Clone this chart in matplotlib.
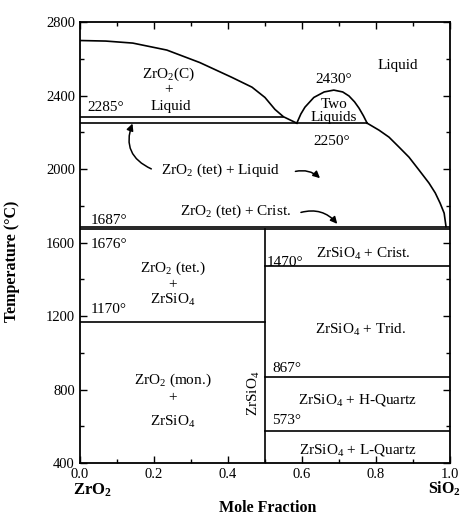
import matplotlib
matplotlib.use("Agg")
from matplotlib import pyplot as plt
from matplotlib.ticker import MultipleLocator, FormatStrFormatter

plt.rcParams['font.family'] = ['Liberation Serif', 'DejaVu Serif']
plt.rcParams['mathtext.fontset'] = 'custom'
plt.rcParams['mathtext.rm'] = 'Liberation Serif'
plt.rcParams['mathtext.it'] = 'Liberation Serif:italic'
plt.rcParams['mathtext.bf'] = 'Liberation Serif:bold'

# liquidus on the ZrO2 side, down to the eutectic
liq_left_x = [0.0, 0.07, 0.143, 0.235, 0.324, 0.41, 0.465, 0.5, 0.527, 0.55, 0.586]
liq_left_t = [2700, 2697, 2686, 2648, 2580, 2500, 2446, 2390, 2325, 2285, 2250]

# miscibility gap (two liquids)
dome_x = [0.586, 0.597, 0.608, 0.632, 0.66, 0.686, 0.71, 0.727, 0.742, 0.754, 0.766, 0.776]
dome_t = [2250, 2300, 2337, 2390, 2420, 2430, 2420, 2398, 2366, 2332, 2290, 2250]

# liquidus on the SiO2 side
liq_right_x = [0.776, 0.808, 0.835, 0.862, 0.889, 0.916, 0.943, 0.96, 0.973, 0.984, 0.989]
liq_right_t = [2250, 2212, 2174, 2120, 2065, 1995, 1924, 1870, 1815, 1760, 1687]

# invariant lines: (temperature, x start, x end)
isotherms = [
    (2285, 0.0, 0.55),
    (2250, 0.0, 0.776),
    (1687, 0.0, 1.0),
    (1676, 0.0, 1.0),
    (1470, 0.5, 1.0),
    (1170, 0.0, 0.5),
    (867, 0.5, 1.0),
    (573, 0.5, 1.0),
]
zrsio4_x = 0.5

# (text, x, T, ha)
labels = [
    (r'ZrO$_2$(C)', 0.24, 2515, 'center'),
    ('+', 0.24, 2432, 'center'),
    ('Liquid', 0.245, 2340, 'center'),
    ('2285°', 0.02, 2335, 'left'),
    ('Liquid', 0.86, 2566, 'center'),
    ('2430°', 0.686, 2486, 'center'),
    ('Two', 0.686, 2350, 'center'),
    ('Liquids', 0.686, 2283, 'center'),
    ('2250°', 0.68, 2152, 'center'),
    (r'ZrO$_2$ (tet) + Liquid', 0.38, 1995, 'center'),
    (r'ZrO$_2$ (tet) + Crist.', 0.42, 1770, 'center'),
    ('1687°', 0.03, 1718, 'left'),
    ('1676°', 0.03, 1588, 'left'),
    (r'ZrO$_2$ (tet.)', 0.25, 1461, 'center'),
    ('+', 0.25, 1372, 'center'),
    (r'ZrSiO$_4$', 0.25, 1287, 'center'),
    ('1170°', 0.03, 1236, 'left'),
    (r'ZrO$_2$ (mon.)', 0.25, 852, 'center'),
    ('+', 0.25, 756, 'center'),
    (r'ZrSiO$_4$', 0.25, 623, 'center'),
    ('1470°', 0.505, 1492, 'left'),
    (r'ZrSiO$_4$ + Crist.', 0.765, 1540, 'center'),
    (r'ZrSiO$_4$ + Trid.', 0.757, 1124, 'center'),
    ('867°', 0.52, 917, 'left'),
    (r'ZrSiO$_4$ + H-Quartz', 0.75, 743, 'center'),
    ('573°', 0.52, 634, 'left'),
    (r'ZrSiO$_4$ + L-Quartz', 0.75, 471, 'center'),
]

# curved pointers: (start x, start T, end x, end T, curvature)
pointers = [
    (0.2, 1995, 0.145, 2262, -0.5),
    (0.575, 1984, 0.654, 1940, -0.3),
    (0.59, 1760, 0.70, 1690, -0.35),
]

fig = plt.figure(figsize=(4.64, 5.15), dpi=100)
ax = fig.add_axes([0.172, 0.101, 0.798, 0.856])

ax.plot(liq_left_x, liq_left_t, color='black', lw=1.2)
ax.plot(dome_x, dome_t, color='black', lw=1.2)
ax.plot(liq_right_x, liq_right_t, color='black', lw=1.2)
for t, x0, x1 in isotherms:
    ax.plot([x0, x1], [t, t], color='black', lw=1.2)
ax.plot([zrsio4_x, zrsio4_x], [400, 1676], color='black', lw=1.2)

for txt, x, t, ha in labels:
    ax.text(x, t, txt, ha=ha, va='center', fontsize=11)

ax.text(0.47, 781, r'ZrSiO$_4$', rotation=90, ha='center', va='center', fontsize=11)

for x0, t0, x1, t1, rad in pointers:
    ax.annotate('', xy=(x1, t1), xytext=(x0, t0),
                arrowprops=dict(arrowstyle='-|>,head_length=0.4,head_width=0.2',
                                color='black', lw=1.1,
                                connectionstyle=f'arc3,rad={rad}'))

ax.set_xlim(0, 1)
ax.set_ylim(400, 2800)
ax.xaxis.set_major_locator(MultipleLocator(0.2))
ax.xaxis.set_minor_locator(MultipleLocator(0.1))
ax.yaxis.set_major_locator(MultipleLocator(400))
ax.yaxis.set_minor_locator(MultipleLocator(200))
ax.tick_params(which='both', direction='in', top=True, right=True, labelsize=10.5, width=1)
ax.tick_params(which='major', length=5)
ax.tick_params(which='minor', length=3)
ax.xaxis.set_major_formatter(FormatStrFormatter('%.1f'))
for s in ax.spines.values():
    s.set_linewidth(1.3)

ax.set_ylabel('Temperature (°C)', fontsize=11.5, fontweight='bold')
ax.yaxis.set_label_coords(-0.162, 0.458)
ax.text(0.508, -0.102, 'Mole Fraction', transform=ax.transAxes,
        ha='center', va='center', fontsize=11.5, fontweight='bold')
ax.text(0.035, -0.063, r'$\mathbf{ZrO_2}$', transform=ax.transAxes,
        ha='center', va='center', fontsize=12)
ax.text(1.03, -0.058, r'$\mathbf{SiO_2}$', transform=ax.transAxes,
        ha='right', va='center', fontsize=11.5)

fig.savefig('out.png', dpi=100)
